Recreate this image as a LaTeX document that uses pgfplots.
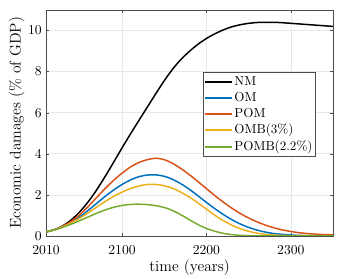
\documentclass[border=0pt]{standalone}
\usepackage{pgfplots}
\pgfplotsset{compat=1.18}
\definecolor{mblue}{rgb}{0,0.447,0.741}
\definecolor{morange}{rgb}{0.85,0.325,0.098}
\definecolor{myellow}{rgb}{0.929,0.694,0.125}
\definecolor{mgreen}{rgb}{0.466,0.674,0.188}
\begin{document}
\begin{tikzpicture}
\begin{axis}[
  name=ax,
  scale only axis,
  width=230bp, height=181bp,
  xmin=2010, xmax=2350, ymin=0, ymax=11,
  xtick={2010,2100,2200,2300},
  ytick={0,2,4,6,8,10},
  ticklabel style={font=\fontsize{10.5}{12}\selectfont},
  xticklabel style={/pgf/number format/1000 sep={}, yshift=-4.5pt},
  grid=major,
  grid style={gray!18},
  tick align=inside,
  major tick length=2.5pt,
  axis line style={gray!60!black},
  tick style={gray!60!black},
  xlabel={time (years)},
  ylabel={Economic damages (\% of GDP)},
  label style={font=\fontsize{12.5}{15}\selectfont},
  xlabel style={yshift=2.6pt},
  ylabel style={yshift=-4pt},
  legend style={at={(0.547,0.724)}, anchor=north west, draw=gray!60!black, fill=white, inner sep=1pt, row sep=0pt, nodes={inner xsep=1pt}, font=\fontsize{10.5}{12}\selectfont},
  legend cell align=left,
  legend image code/.code={\draw[mark repeat=2,mark phase=2,#1, line width=1.5pt] plot coordinates {(0cm,0cm) (0.38cm,0cm) (0.76cm,0cm)};},
  every axis plot/.append style={line width=1.2pt, smooth, no marks},
]
\addplot[black] coordinates {(2010,0.18)(2020,0.3)(2030,0.49)(2040,0.78)(2050,1.17)(2060,1.66)(2070,2.24)(2080,2.89)(2090,3.58)(2100,4.28)(2110,4.96)(2120,5.62)(2130,6.27)(2140,6.92)(2150,7.55)(2160,8.12)(2170,8.6)(2180,8.99)(2190,9.33)(2200,9.61)(2210,9.84)(2220,10.03)(2230,10.18)(2240,10.28)(2250,10.35)(2260,10.39)(2270,10.4)(2280,10.4)(2290,10.38)(2300,10.35)(2320,10.29)(2340,10.23)(2350,10.2)};
\addlegendentry{NM}
\addplot[mblue] coordinates {(2010,0.2)(2020,0.3)(2030,0.46)(2040,0.67)(2050,0.93)(2060,1.24)(2070,1.58)(2080,1.92)(2090,2.23)(2100,2.5)(2110,2.72)(2120,2.88)(2130,2.96)(2140,2.97)(2150,2.9)(2160,2.75)(2170,2.53)(2180,2.26)(2190,1.95)(2200,1.63)(2210,1.32)(2220,1.04)(2230,0.79)(2240,0.58)(2250,0.41)(2260,0.28)(2270,0.18)(2280,0.11)(2290,0.07)(2300,0.04)(2310,0.02)(2320,0.01)(2350,0)};
\addlegendentry{OM}
\addplot[morange] coordinates {(2010,0.2)(2020,0.3)(2030,0.47)(2040,0.71)(2050,1.03)(2060,1.43)(2070,1.87)(2080,2.3)(2090,2.7)(2100,3.05)(2110,3.35)(2120,3.57)(2130,3.71)(2140,3.78)(2150,3.71)(2160,3.53)(2170,3.27)(2180,2.97)(2190,2.64)(2200,2.3)(2210,1.96)(2220,1.64)(2230,1.35)(2240,1.09)(2250,0.87)(2260,0.68)(2270,0.52)(2280,0.39)(2290,0.29)(2300,0.21)(2310,0.15)(2320,0.11)(2330,0.08)(2340,0.06)(2350,0.05)};
\addlegendentry{POM}
\addplot[myellow] coordinates {(2010,0.2)(2020,0.29)(2030,0.44)(2040,0.63)(2050,0.86)(2060,1.12)(2070,1.4)(2080,1.67)(2090,1.92)(2100,2.13)(2110,2.3)(2120,2.43)(2130,2.5)(2140,2.5)(2150,2.44)(2160,2.31)(2170,2.12)(2180,1.88)(2190,1.6)(2200,1.3)(2210,1.0)(2220,0.74)(2230,0.52)(2240,0.35)(2250,0.22)(2260,0.13)(2270,0.07)(2280,0.04)(2290,0.02)(2300,0.01)(2350,0)};
\addlegendentry{OMB(3\%)}
\addplot[mgreen] coordinates {(2010,0.2)(2020,0.29)(2030,0.42)(2040,0.57)(2050,0.74)(2060,0.92)(2070,1.1)(2080,1.26)(2090,1.39)(2100,1.48)(2110,1.53)(2120,1.54)(2130,1.52)(2140,1.47)(2150,1.38)(2160,1.23)(2170,1.02)(2180,0.78)(2190,0.55)(2200,0.36)(2210,0.22)(2220,0.12)(2230,0.06)(2240,0.025)(2250,0.01)(2260,0)(2350,0)};
\addlegendentry{POMB(2.2\%)}
\end{axis}
\pgfresetboundingbox
\path ([xshift=-36.9bp,yshift=-34.5bp]ax.south west) rectangle ([xshift=7.2bp,yshift=8bp]ax.north east);
\end{tikzpicture}
\end{document}
